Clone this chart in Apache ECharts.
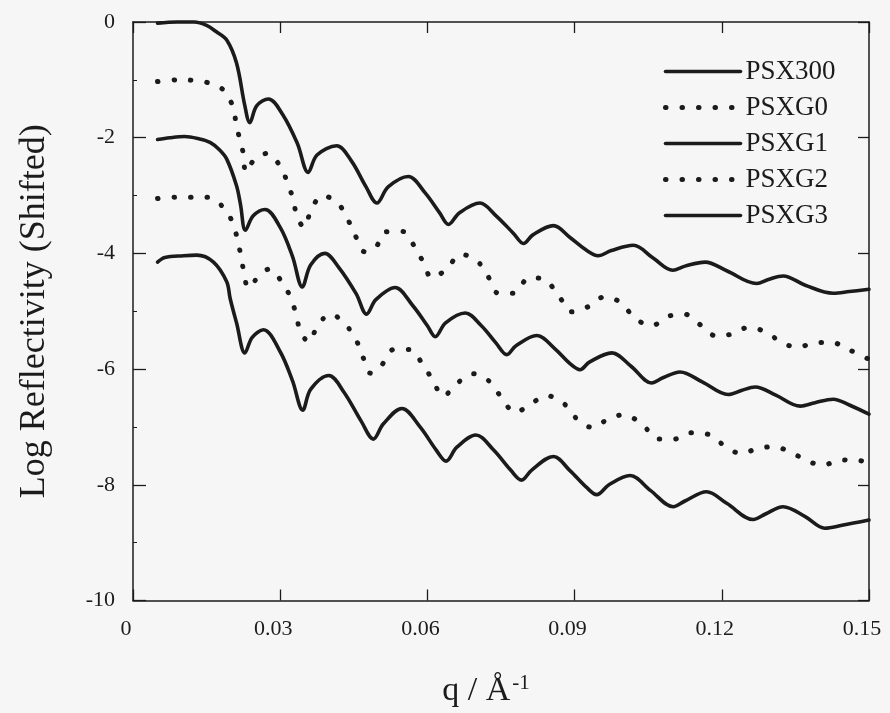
<!DOCTYPE html>
<html>
<head>
<meta charset="utf-8">
<title>Log Reflectivity (Shifted)</title>
<script src="https://cdn.jsdelivr.net/npm/echarts@6/dist/echarts.min.js"></script>
<style>
  html, body { margin: 0; padding: 0; background: #f6f6f6; }
  #chart { width: 890px; height: 713px; }
</style>
</head>
<body>
<div id="chart"></div>
<script>
// Reflectivity curves, each shifted down by one decade: [q (1/Å), log R]
const seriesNames = ['PSX300', 'PSXG0', 'PSXG1', 'PSXG2', 'PSXG3'];

const psx300 = [
  [0.005, -0.02], [0.009, 0.0], [0.0125, 0.0], [0.015, -0.06], [0.017, -0.17],
  [0.0191, -0.31], [0.0211, -0.71], [0.0228, -1.45], [0.0238, -1.74], [0.0252, -1.45],
  [0.0276, -1.33], [0.0305, -1.6], [0.0335, -2.1], [0.0357, -2.6], [0.0375, -2.3],
  [0.0415, -2.14], [0.0445, -2.4], [0.0475, -2.85], [0.0497, -3.13], [0.052, -2.85],
  [0.0561, -2.67], [0.0595, -2.95], [0.0625, -3.3], [0.0643, -3.5], [0.0665, -3.3],
  [0.0707, -3.13], [0.074, -3.35], [0.0775, -3.65], [0.0796, -3.83], [0.0815, -3.68],
  [0.0857, -3.52], [0.089, -3.72], [0.0925, -3.95], [0.0948, -4.04], [0.0975, -3.95],
  [0.102, -3.86], [0.106, -4.08], [0.110, -4.29], [0.1125, -4.22], [0.1166, -4.15],
  [0.121, -4.3], [0.1271, -4.52], [0.1295, -4.45], [0.1325, -4.39], [0.137, -4.55],
  [0.1427, -4.69], [0.146, -4.66], [0.150, -4.62]
];

const psxg0 = [
  [0.005, -1.03], [0.009, -1.0], [0.0125, -1.01], [0.0153, -1.05], [0.0175, -1.12],
  [0.0187, -1.2], [0.0204, -1.47], [0.021, -1.75], [0.0217, -2.01], [0.0225, -2.28],
  [0.023, -2.59], [0.0248, -2.37], [0.0274, -2.27], [0.0301, -2.51], [0.0316, -2.81],
  [0.0327, -3.08], [0.0334, -3.36], [0.0349, -3.55], [0.0363, -3.25], [0.0386, -3.0],
  [0.0417, -3.13], [0.0437, -3.40], [0.0453, -3.69], [0.0472, -3.97], [0.0495, -3.89],
  [0.0514, -3.63], [0.0549, -3.62], [0.0575, -3.90], [0.0592, -4.16], [0.0609, -4.42],
  [0.0638, -4.28], [0.0668, -4.02], [0.0699, -4.11], [0.0723, -4.39], [0.0745, -4.69],
  [0.0775, -4.69], [0.0808, -4.42], [0.0838, -4.45], [0.0869, -4.75], [0.0893, -5.01],
  [0.0928, -4.92], [0.0961, -4.75], [0.0994, -4.85], [0.1023, -5.12], [0.1057, -5.25],
  [0.109, -5.09], [0.1124, -5.05], [0.1154, -5.22], [0.119, -5.43], [0.1222, -5.39],
  [0.1254, -5.28], [0.129, -5.36], [0.1324, -5.55], [0.1356, -5.62], [0.1392, -5.54],
  [0.1424, -5.54], [0.1458, -5.66], [0.150, -5.83]
];

const psxg1 = [
  [0.005, -2.03], [0.0075, -2.0], [0.0105, -1.98], [0.0135, -2.02], [0.0157, -2.08],
  [0.0175, -2.2], [0.0191, -2.37], [0.0211, -2.83], [0.0219, -3.15], [0.0229, -3.6],
  [0.0245, -3.35], [0.0269, -3.24], [0.030, -3.55], [0.0325, -4.05], [0.0345, -4.58],
  [0.0362, -4.2], [0.0391, -4.0], [0.042, -4.25], [0.0455, -4.7], [0.0476, -5.05],
  [0.0495, -4.8], [0.0534, -4.59], [0.057, -4.9], [0.060, -5.25], [0.0616, -5.44],
  [0.0637, -5.2], [0.0677, -5.03], [0.071, -5.25], [0.074, -5.55], [0.0762, -5.75],
  [0.078, -5.6], [0.0823, -5.42], [0.086, -5.65], [0.089, -5.9], [0.0911, -6.01],
  [0.093, -5.88], [0.0976, -5.72], [0.1015, -5.95], [0.1057, -6.24], [0.108, -6.15],
  [0.1115, -6.05], [0.116, -6.22], [0.1213, -6.44], [0.124, -6.37], [0.1268, -6.31],
  [0.131, -6.45], [0.136, -6.64], [0.139, -6.58], [0.1427, -6.52], [0.146, -6.62],
  [0.150, -6.78]
];

const psxg2 = [
  [0.005, -3.05], [0.0085, -3.03], [0.0115, -3.03], [0.0152, -3.03], [0.0186, -3.22],
  [0.0203, -3.47], [0.0213, -3.76], [0.0220, -4.05], [0.0226, -4.32], [0.0235, -4.60],
  [0.0251, -4.45], [0.0278, -4.27], [0.0306, -4.53], [0.0323, -4.80], [0.0333, -5.08],
  [0.0342, -5.37], [0.0359, -5.53], [0.0376, -5.25], [0.0403, -5.05], [0.0434, -5.24],
  [0.0455, -5.50], [0.0469, -5.80], [0.0484, -6.07], [0.0505, -5.95], [0.0532, -5.66],
  [0.0563, -5.66], [0.0592, -5.94], [0.0612, -6.21], [0.0632, -6.47], [0.066, -6.25],
  [0.0694, -6.08], [0.0726, -6.21], [0.075, -6.48], [0.0779, -6.75], [0.0811, -6.60],
  [0.0843, -6.46], [0.0876, -6.58], [0.0906, -6.87], [0.0937, -7.01], [0.0971, -6.85],
  [0.1001, -6.79], [0.1038, -6.96], [0.1071, -7.21], [0.1103, -7.21], [0.1137, -7.10],
  [0.1173, -7.13], [0.1205, -7.32], [0.1239, -7.46], [0.1271, -7.38], [0.1305, -7.34],
  [0.1341, -7.44], [0.1375, -7.59], [0.1406, -7.66], [0.1442, -7.57], [0.1475, -7.58],
  [0.150, -7.6]
];

const psxg3 = [
  [0.005, -4.15], [0.0065, -4.07], [0.0103, -4.04], [0.013, -4.03], [0.0164, -4.15],
  [0.0191, -4.49], [0.0198, -4.78], [0.0211, -5.2], [0.0228, -5.72], [0.0243, -5.45],
  [0.0266, -5.32], [0.030, -5.7], [0.0325, -6.2], [0.0346, -6.71], [0.0362, -6.35],
  [0.0399, -6.11], [0.043, -6.4], [0.0465, -6.9], [0.049, -7.21], [0.051, -6.95],
  [0.0548, -6.68], [0.0585, -7.0], [0.0618, -7.4], [0.0638, -7.59], [0.066, -7.35],
  [0.0699, -7.14], [0.0735, -7.4], [0.077, -7.75], [0.0792, -7.92], [0.0812, -7.75],
  [0.0857, -7.51], [0.089, -7.75], [0.0925, -8.05], [0.0945, -8.17], [0.097, -8.0],
  [0.1013, -7.84], [0.1055, -8.1], [0.1101, -8.38], [0.1125, -8.28], [0.1169, -8.12],
  [0.121, -8.32], [0.1264, -8.60], [0.129, -8.5], [0.1325, -8.38], [0.137, -8.55],
  [0.141, -8.75], [0.1445, -8.7], [0.150, -8.61]
];

const curves = [psx300, psxg0, psxg1, psxg2, psxg3];
const dottedSeries = [false, true, false, true, false];

const xTickLabels = ['0', '0.03', '0.06', '0.09', '0.12', '0.15'];
const yTickLabels = ['-10', '-8', '-6', '-4', '-2', '0'];

const ink = '#1b1b1b';
const serif = '"Liberation Serif", "Times New Roman", Times, serif';

const solidLine = { type: 'solid', width: 3.6, color: ink, cap: 'round', join: 'round' };
const dotLine = { type: [0.5, 16], width: 5, color: ink, cap: 'round', join: 'round' };

// Shared frame axis: line on the grid edge, short inward ticks
function frameAxis(extra) {
  return Object.assign({
    type: 'value',
    axisLine: { show: true, onZero: false, lineStyle: { color: ink, width: 1.5 } },
    axisTick: { show: true, inside: true, length: 11, lineStyle: { color: ink, width: 1.3 } },
    splitLine: { show: false }
  }, extra);
}

const chart = echarts.init(document.getElementById('chart'), null, { renderer: 'canvas' });

chart.setOption({
  backgroundColor: '#f6f6f6',
  animation: false,
  grid: { left: 133, right: 21, top: 22, bottom: 109, containLabel: false },
  legend: {
    orient: 'vertical',
    left: 663,
    top: 58,
    padding: 0,
    itemWidth: 75,
    itemHeight: 14,
    itemGap: 9,
    data: seriesNames,
    itemStyle: { opacity: 0 },
    lineStyle: { width: 'inherit', type: 'inherit', cap: 'round' },
    textStyle: { fontFamily: serif, fontSize: 27, lineHeight: 27, color: ink }
  },
  xAxis: [
    frameAxis({
      position: 'bottom',
      min: 0, max: 0.15, interval: 0.03,
      axisLabel: {
        show: true, margin: 18, fontFamily: serif, fontSize: 22, color: ink,
        padding: [0, 14, 0, 0],
        formatter: v => xTickLabels[Math.round(v / 0.03)]
      },
      name: 'q / Å{sup|-1}',
      nameLocation: 'middle',
      nameGap: 72,
      nameTextStyle: {
        fontFamily: serif, fontSize: 34, color: ink,
        padding: [0, 30, 0, 0],
        rich: { sup: { fontFamily: serif, fontSize: 21, color: ink, verticalAlign: 'top', padding: [0, 0, 16, 2] } }
      }
    }),
    frameAxis({
      position: 'top',
      min: 0, max: 0.15, interval: 0.03,
      axisLabel: { show: false }
    })
  ],
  yAxis: [
    frameAxis({
      position: 'left',
      min: -10, max: 0, interval: 2,
      axisTick: { show: true, inside: true, length: 13, lineStyle: { color: ink, width: 1.3 } },
      minorTick: { show: true, splitNumber: 2, length: 4, lineStyle: { color: ink, width: 1 } },
      axisLabel: {
        show: true, margin: 18, fontFamily: serif, fontSize: 22, color: ink,
        formatter: v => yTickLabels[Math.round((v + 10) / 2)]
      },
      name: 'Log Reflectivity (Shifted)',
      nameLocation: 'middle',
      nameGap: 80,
      nameTextStyle: { fontFamily: serif, fontSize: 36, color: ink }
    }),
    frameAxis({
      position: 'right',
      min: -10, max: 0, interval: 2,
      axisLabel: { show: false }
    })
  ],
  series: curves.map((data, i) => ({
    name: seriesNames[i],
    type: 'line',
    data: data,
    smooth: 0.35,
    showSymbol: false,
    symbol: 'none',
    clip: false,
    lineStyle: dottedSeries[i] ? dotLine : solidLine,
    itemStyle: { color: ink }
  }))
});
</script>
</body>
</html>
